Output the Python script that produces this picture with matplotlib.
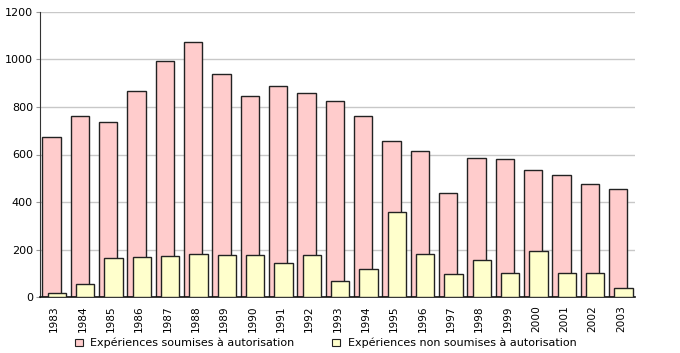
import matplotlib
matplotlib.use("Agg")
import matplotlib.pyplot as plt
from matplotlib.patches import Patch
import numpy as np

years = [str(y) for y in range(1983, 2004)]
soumises = [673, 762, 737, 867, 993, 1074, 939, 846, 888, 859, 825, 762,
            656, 614, 437, 585, 580, 534, 513, 475, 454]
non_soumises = [16, 53, 163, 167, 171, 180, 176, 176, 142, 176, 66, 117,
                357, 180, 96, 155, 100, 193, 100, 100, 37]

pink = "#FFCCCC"
yellow = "#FFFFCC"
edge = "#222222"

fig = plt.figure(figsize=(6.8, 3.53), dpi=100)
ax = fig.add_axes([40 / 680, 1 - 297 / 353, 595 / 680, 285 / 353])

x = np.arange(len(years))
w = 0.65
off = 0.095
ax.bar(x - off, soumises, w, color=pink, edgecolor=edge, linewidth=1, zorder=2)
ax.bar(x + off, non_soumises, w, color=yellow, edgecolor=edge, linewidth=1, zorder=3)

ax.set_xlim(-0.5, len(years) - 0.5)
ax.set_ylim(0, 1200)
ax.set_yticks(range(0, 1201, 200))
ax.yaxis.grid(True, color="#C8C8C8", linewidth=1)
ax.set_axisbelow(True)
ax.set_xticks(x)
ax.set_xticklabels(years, rotation=90, fontsize=7.6)
ax.tick_params(axis="y", labelsize=8, length=3, color="#999999", pad=2)
ax.tick_params(axis="x", length=0, pad=6)
for s in ["top", "right"]:
    ax.spines[s].set_visible(False)
ax.spines["left"].set_color("#333333")
ax.spines["bottom"].set_color("#111111")
ax.spines["bottom"].set_linewidth(1.2)

handles = [Patch(facecolor=pink, edgecolor=edge, linewidth=0.8),
           Patch(facecolor=yellow, edgecolor=edge, linewidth=0.8)]
labels = ["Expériences soumises à autorisation",
          "Expériences non soumises à autorisation"]
fig.legend(handles, labels, ncol=2, loc="lower left",
           bbox_to_anchor=(66 / 680, -0.012), frameon=False, fontsize=8,
           handlelength=0.7, handleheight=0.7, handletextpad=0.7,
           columnspacing=3.4, borderpad=0.3)

fig.savefig("out.png", dpi=100)
